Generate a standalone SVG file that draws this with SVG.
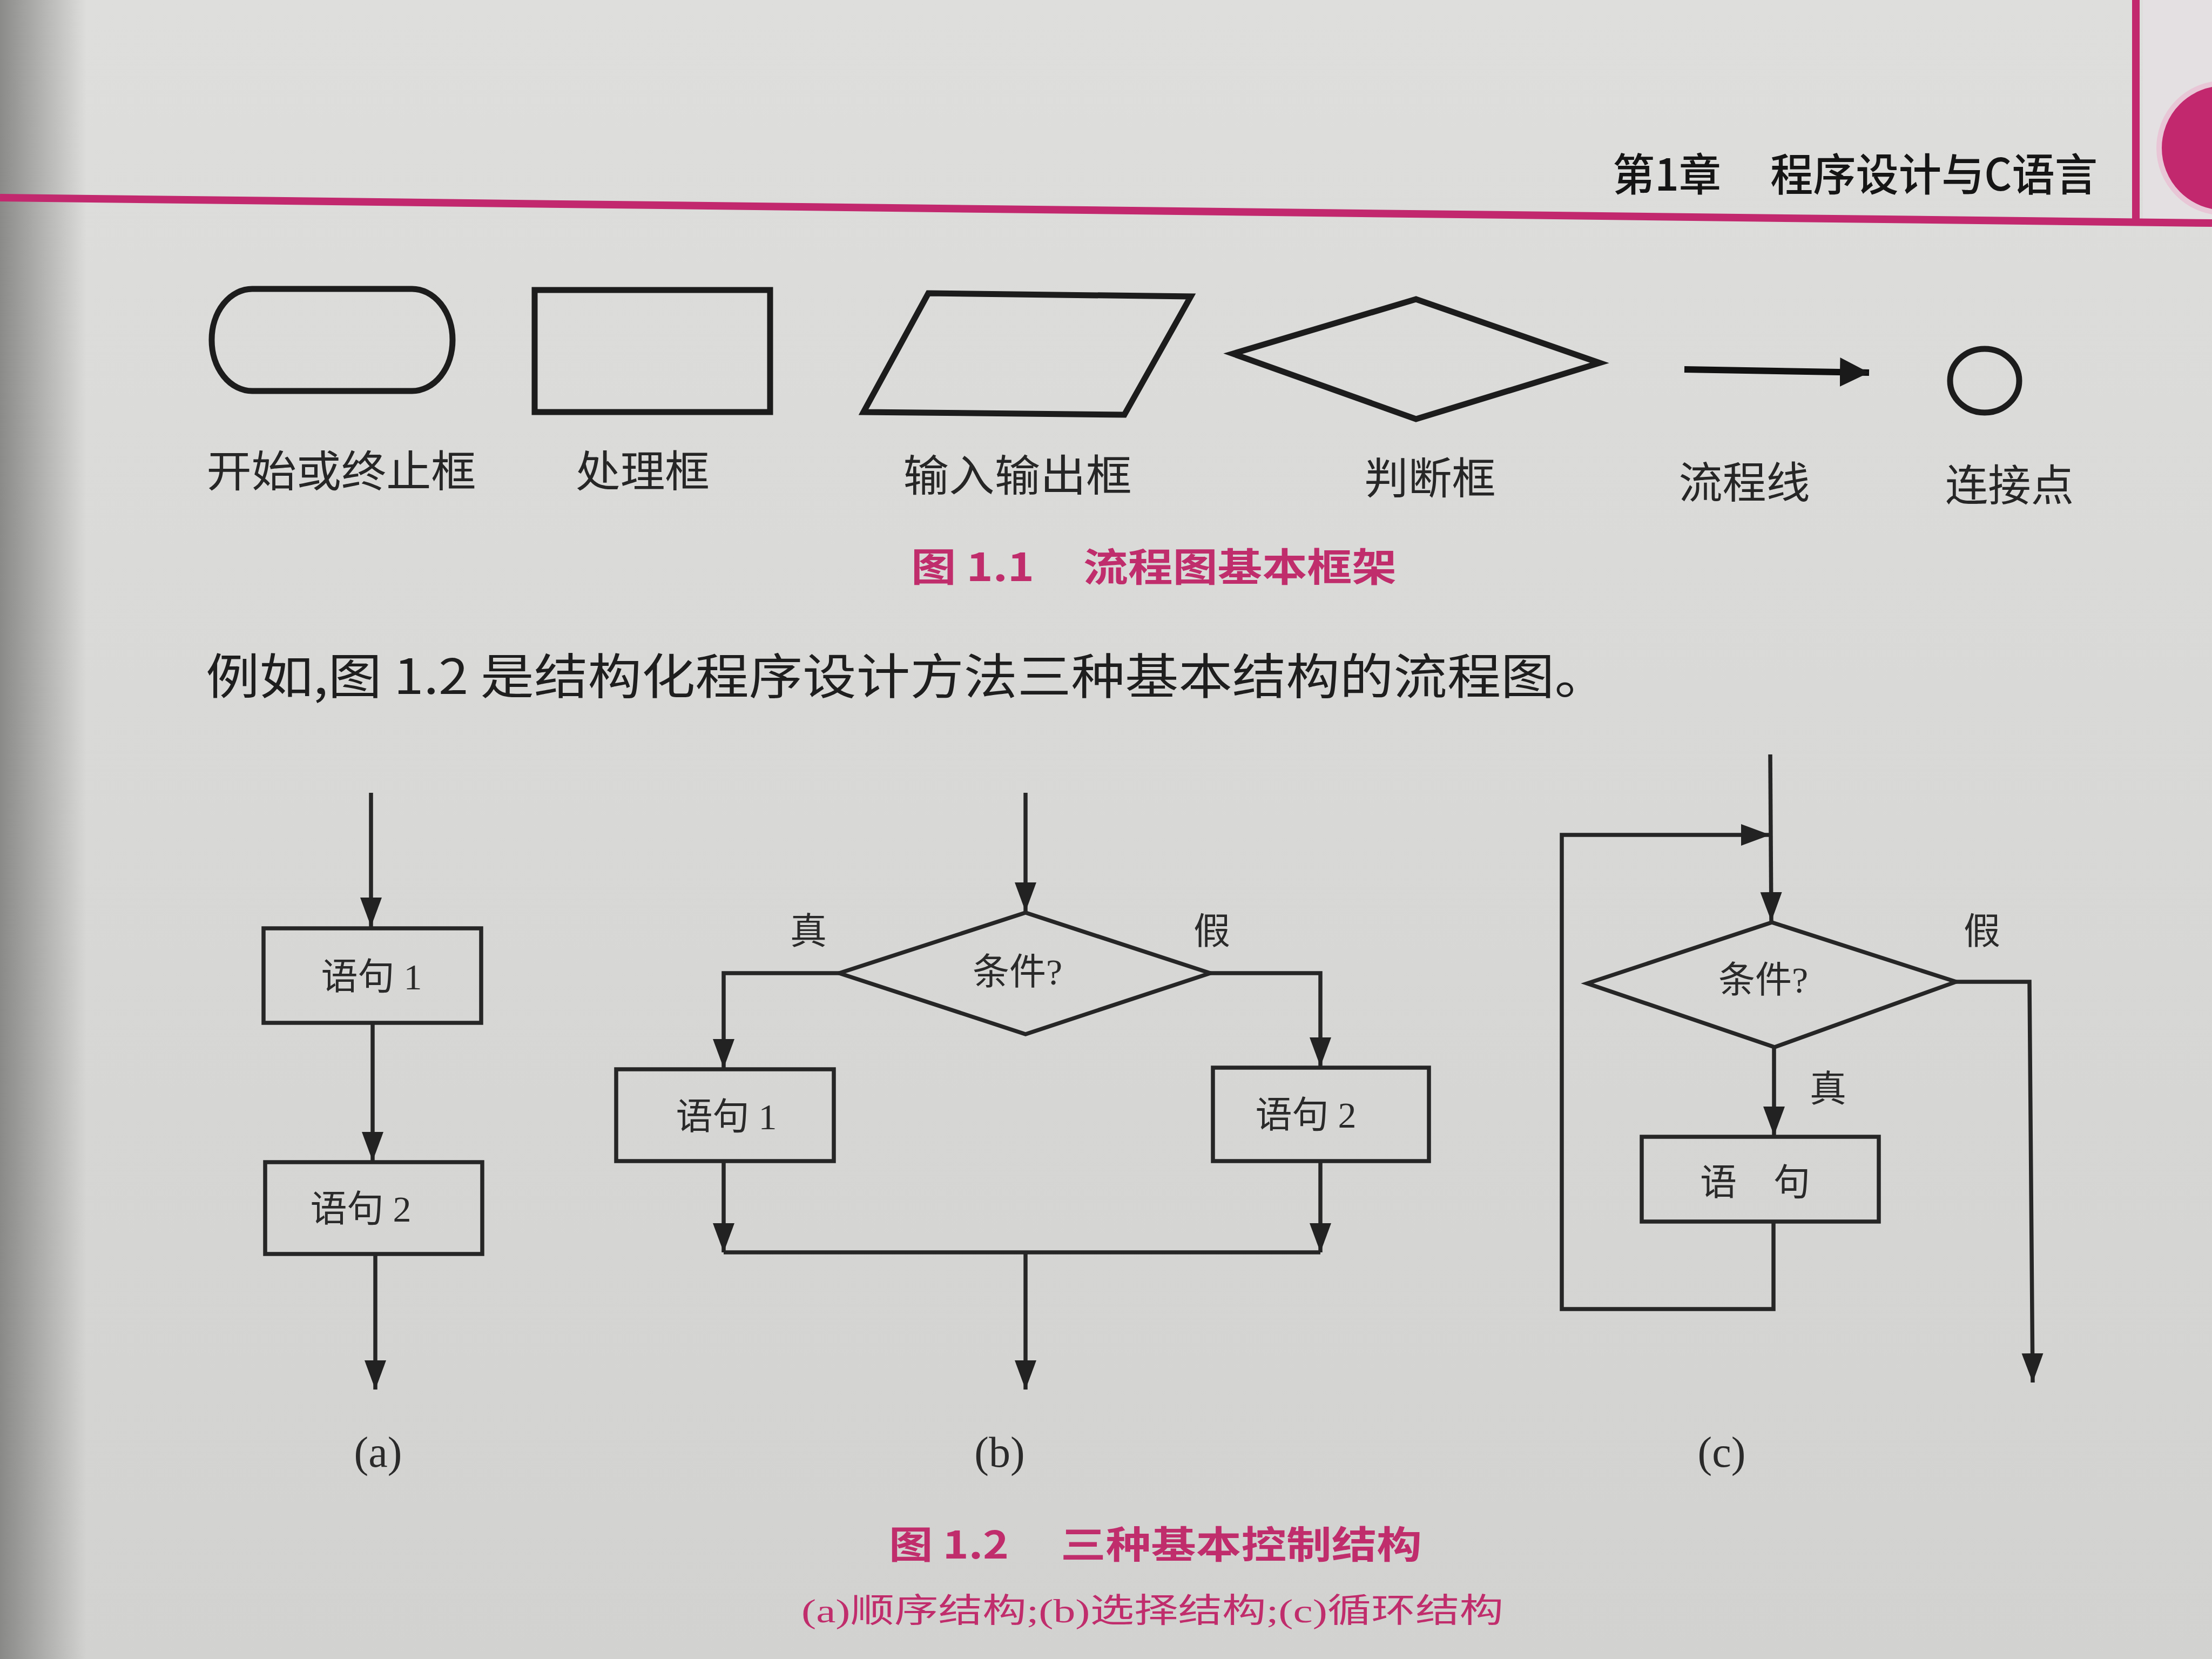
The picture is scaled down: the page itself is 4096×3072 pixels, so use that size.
<svg xmlns="http://www.w3.org/2000/svg" width="4096" height="3072" viewBox="0 0 4096 3072">
  <defs>
    <linearGradient id="leftShade" x1="0" y1="0" x2="1" y2="0">
      <stop offset="0" stop-color="#7c7c7a" stop-opacity="0.85"/>
      <stop offset="1" stop-color="#7c7c7a" stop-opacity="0"/>
    </linearGradient>
    <linearGradient id="pageTone" x1="0" y1="0" x2="0" y2="1">
      <stop offset="0" stop-color="#dededc"/>
      <stop offset="1" stop-color="#d2d2d0"/>
    </linearGradient>
    <marker id="ah" markerUnits="userSpaceOnUse" markerWidth="56" markerHeight="42" refX="54" refY="21" orient="auto">
      <path d="M0,1 L54,21 L0,41 Z" fill="#222"/>
    </marker>
    <marker id="ahBig" markerUnits="userSpaceOnUse" markerWidth="56" markerHeight="60" refX="54" refY="30" orient="auto">
      <path d="M0,3 L54,30 L0,57 Z" fill="#1a1a1a"/>
    </marker>
    <style>
      .shape { fill: none; stroke: #1c1c1c; stroke-width: 11; stroke-linejoin: miter; }
      .box { fill: none; stroke: #262626; stroke-width: 7.5; }
      .conn { fill: none; stroke: #262626; stroke-width: 7.5; }
      .lbl { font-family: "Noto Sans CJK SC", "Noto Sans", sans-serif; font-size: 80px; fill: #262626; text-anchor: middle; }
      .ftx { font-family: "Liberation Serif", "Noto Sans CJK SC", serif; font-size: 68px; fill: #2a2a2a; text-anchor: middle; }
      .sub { font-family: "Liberation Serif", "Noto Sans CJK SC", serif; font-size: 80px; fill: #2a2a2a; text-anchor: middle; }
      .cap { font-family: "Noto Sans CJK SC", "Noto Sans", sans-serif; font-weight: bold; fill: #c02d6c; }
      .hdr { font-family: "Noto Sans CJK SC", "Noto Sans", sans-serif; font-size: 82px; fill: #151515; font-weight: 500; }
      .mag { stroke: #c2286e; fill: none; }
    </style>
  </defs>

  <!-- page -->
  <rect x="0" y="0" width="4096" height="3072" fill="url(#pageTone)"/>
  <rect x="3968" y="0" width="128" height="412" fill="#e4e0e2"/>
  <rect x="0" y="0" width="160" height="3072" fill="url(#leftShade)"/>

  <!-- header -->
  <g id="header">
    <line class="mag" x1="0" y1="366" x2="4096" y2="413" stroke-width="14"/>
    <line class="mag" x1="3955" y1="0" x2="3955" y2="410" stroke-width="14"/>
    <circle cx="4118" cy="274" r="120" fill="#c2286e" stroke="#e8c6d6" stroke-width="10"/>
    <text class="hdr" x="2986" y="353" textLength="201" lengthAdjust="spacingAndGlyphs">第1章</text>
    <text class="hdr" x="3278" y="353" textLength="606" lengthAdjust="spacingAndGlyphs">程序设计与C语言</text>
  </g>

  <!-- Figure 1.1 symbols -->
  <g id="sym-terminal">
    <rect class="shape" x="392" y="535" width="446" height="189" rx="75" ry="94"/>
    <text class="lbl" x="632" y="901" textLength="499" lengthAdjust="spacingAndGlyphs">开始或终止框</text>
  </g>
  <g id="sym-process">
    <rect class="shape" x="990" y="537" width="436" height="226"/>
    <text class="lbl" x="1190" y="901" textLength="248" lengthAdjust="spacingAndGlyphs">处理框</text>
  </g>
  <g id="sym-io">
    <polygon class="shape" points="1719,543 2205,549 2082,768 1599,763"/>
    <text class="lbl" x="1884" y="909" textLength="423" lengthAdjust="spacingAndGlyphs">输入输出框</text>
  </g>
  <g id="sym-decision">
    <polygon class="shape" points="2283,655 2622,554 2962,672 2622,776"/>
    <text class="lbl" x="2648" y="914" textLength="243" lengthAdjust="spacingAndGlyphs">判断框</text>
  </g>
  <g id="sym-flowline">
    <line x1="3119" y1="684" x2="3461" y2="690" stroke="#111" stroke-width="12" marker-end="url(#ahBig)"/>
    <text class="lbl" x="3230" y="922" textLength="243" lengthAdjust="spacingAndGlyphs">流程线</text>
  </g>
  <g id="sym-connector">
    <ellipse class="shape" cx="3675" cy="705" rx="64" ry="59" stroke-width="9"/>
    <text class="lbl" x="3721" y="927" textLength="238" lengthAdjust="spacingAndGlyphs">连接点</text>
  </g>
  <g id="caption-1-1">
    <text class="cap" x="1687" y="1076" font-size="72" textLength="228" lengthAdjust="spacingAndGlyphs">图 1.1</text>
    <text class="cap" x="2006" y="1076" font-size="72" textLength="580" lengthAdjust="spacingAndGlyphs">流程图基本框架</text>
  </g>

  <!-- body sentence -->
  <text x="381" y="1285" font-family="Noto Sans CJK SC, Noto Sans, sans-serif" font-size="90" fill="#1e1e1e" textLength="2597" lengthAdjust="spacingAndGlyphs">例如,图 1.2 是结构化程序设计方法三种基本结构的流程图。</text>

  <!-- Figure 1.2 nodes -->
  <g id="a-stmt1">
    <rect class="box" x="488" y="1719" width="403" height="175"/>
    <text class="ftx" x="688" y="1832">语句 1</text>
  </g>
  <g id="a-stmt2">
    <rect class="box" x="491" y="2152" width="402" height="170"/>
    <text class="ftx" x="668" y="2262">语句 2</text>
  </g>
  <text class="sub" x="700" y="2716">(a)</text>

  <g id="b-cond">
    <polygon class="box" points="1554,1802 1899,1690 2241,1802 1899,1915"/>
    <text class="ftx" x="1884" y="1823">条件?</text>
  </g>
  <g id="b-stmt1">
    <rect class="box" x="1141" y="1980" width="403" height="170"/>
    <text class="ftx" x="1345" y="2091">语句 1</text>
  </g>
  <g id="b-stmt2">
    <rect class="box" x="2246" y="1977" width="400" height="173"/>
    <text class="ftx" x="2418" y="2088">语句 2</text>
  </g>
  <text class="ftx" x="1497" y="1748">真</text>
  <text class="ftx" x="2244" y="1748">假</text>
  <text class="sub" x="1851" y="2716">(b)</text>

  <g id="c-cond">
    <polygon class="box" points="2939,1821 3281,1708 3622,1818 3286,1939"/>
    <text class="ftx" x="3265" y="1838">条件?</text>
  </g>
  <g id="c-stmt">
    <rect class="box" x="3040" y="2105" width="439" height="157"/>
    <text class="ftx" x="3250" y="2213">语　句</text>
  </g>
  <text class="ftx" x="3670" y="1748">假</text>
  <text class="ftx" x="3385" y="2040">真</text>
  <text class="sub" x="3188" y="2716">(c)</text>

  <!-- connectors -->
  <g id="connectors">
    <!-- (a) -->
    <line class="conn" x1="687" y1="1468" x2="687" y2="1716" marker-end="url(#ah)"/>
    <line class="conn" x1="690" y1="1894" x2="690" y2="2150" marker-end="url(#ah)"/>
    <line class="conn" x1="695" y1="2322" x2="695" y2="2573" marker-end="url(#ah)"/>
    <!-- (b) -->
    <line class="conn" x1="1899" y1="1468" x2="1899" y2="1688" marker-end="url(#ah)"/>
    <polyline class="conn" points="1554,1802 1340,1802 1340,1978" marker-end="url(#ah)"/>
    <polyline class="conn" points="2241,1802 2445,1802 2445,1975" marker-end="url(#ah)"/>
    <line class="conn" x1="1340" y1="2150" x2="1340" y2="2319" marker-end="url(#ah)"/>
    <line class="conn" x1="2445" y1="2150" x2="2445" y2="2319" marker-end="url(#ah)"/>
    <line class="conn" x1="1340" y1="2319" x2="2445" y2="2319"/>
    <line class="conn" x1="1899" y1="2319" x2="1899" y2="2573" marker-end="url(#ah)"/>
    <!-- (c) -->
    <line class="conn" x1="3278" y1="1397" x2="3280" y2="1706" marker-end="url(#ah)"/>
    <polyline class="conn" points="3284,2262 3284,2424 2892,2424 2892,1546 3278,1546" marker-end="url(#ah)"/>
    <line class="conn" x1="3285" y1="1939" x2="3285" y2="2103" marker-end="url(#ah)"/>
    <polyline class="conn" points="3622,1818 3758,1818 3764,2560" marker-end="url(#ah)"/>
  </g>

  <g id="caption-1-2">
    <text class="cap" x="1646" y="2886" font-size="70" textLength="222" lengthAdjust="spacingAndGlyphs">图 1.2</text>
    <text class="cap" x="1964" y="2886" font-size="70" textLength="669" lengthAdjust="spacingAndGlyphs">三种基本控制结构</text>
    <text x="1484" y="3004" font-family="Liberation Serif, Noto Sans CJK SC, serif" font-size="62" fill="#c02d6c" textLength="1300" lengthAdjust="spacingAndGlyphs">(a)顺序结构;(b)选择结构;(c)循环结构</text>
  </g>
</svg>
